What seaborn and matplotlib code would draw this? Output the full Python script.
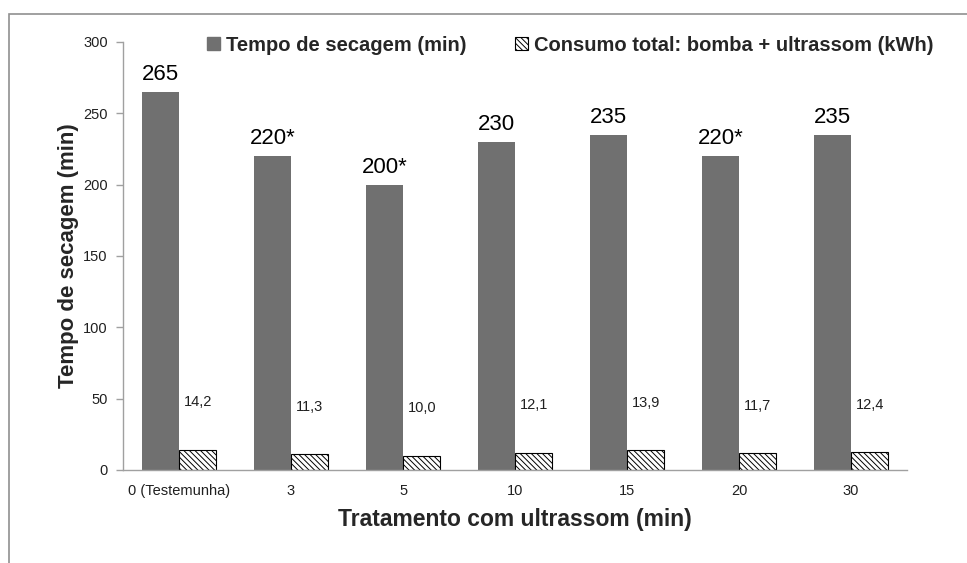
import matplotlib
matplotlib.use("Agg")
import matplotlib.pyplot as plt
from matplotlib.patches import Rectangle, Patch
import pandas as pd
import seaborn as sns

# Dados do gráfico
tratamentos = ["0 (Testemunha)", "3", "5", "10", "15", "20", "30"]
tempo_secagem = [265, 220, 200, 230, 235, 220, 235]
signif = ["", "*", "*", "", "", "*", ""]
consumo_kwh = [14.2, 11.3, 10.0, 12.1, 13.9, 11.7, 12.4]
series = ["Tempo de secagem (min)", "Consumo total: bomba + ultrassom (kWh)"]

df = pd.DataFrame({
    "trat": tratamentos * 2,
    "valor": tempo_secagem + consumo_kwh,
    "serie": [series[0]] * len(tratamentos) + [series[1]] * len(tratamentos),
})

sns.set_style("white")
plt.rcParams["font.family"] = ["Liberation Sans", "DejaVu Sans"]
plt.rcParams["hatch.linewidth"] = 0.7

cinza = "#707070"
hachura = "\\" * 6
fig = plt.figure(figsize=(9.67, 5.63), dpi=100)
ax = fig.add_axes([0.1272, 0.1652, 0.8108, 0.7602])

sns.barplot(data=df, x="trat", y="valor", hue="serie", order=tratamentos,
            hue_order=series, palette=[cinza, "white"], width=0.667,
            saturation=1, legend=False, ax=ax, err_kws={"linewidth": 0})

gray_bars, hatch_bars = ax.containers[0], ax.containers[1]
for p in gray_bars:
    p.set_edgecolor(cinza)
    p.set_linewidth(0)
for p in hatch_bars:
    p.set_facecolor("white")
    p.set_edgecolor("black")
    p.set_hatch(hachura)
    p.set_linewidth(0.8)

ax.bar_label(gray_bars, labels=[f"{v}{s}" for v, s in zip(tempo_secagem, signif)],
             padding=5, fontsize=16, color="black")
ax.bar_label(hatch_bars, labels=[f"{v:.1f}".replace(".", ",") for v in consumo_kwh],
             padding=29, fontsize=10.5, color="#202020")

ax.set_ylim(0, 300)
ax.set_xlim(-0.5, len(tratamentos) - 0.5)
ax.set_yticks(range(0, 301, 50))

# ticks do eixo x nas divisões entre grupos
ax.set_xticks([i - 0.5 for i in range(len(tratamentos) + 1)], minor=True)
ax.tick_params(axis="x", which="major", length=0, pad=10, labelsize=10.5, labelcolor="#202020")
ax.tick_params(axis="x", which="minor", length=5, width=1, color="#a0a0a0", direction="out")
ax.tick_params(axis="y", length=5, width=1, color="#a0a0a0", direction="out", pad=6,
               labelsize=10.5, labelcolor="#202020", left=True)

for s in ["top", "right"]:
    ax.spines[s].set_visible(False)
for s in ["left", "bottom"]:
    ax.spines[s].set_color("#a0a0a0")
    ax.spines[s].set_linewidth(1)

ax.set_xlabel("Tratamento com ultrassom (min)", fontsize=16.5, fontweight="bold", labelpad=7)
ax.set_ylabel("Tempo de secagem (min)", fontsize=16, fontweight="bold", labelpad=3)

handles = [Patch(facecolor=cinza, edgecolor=cinza),
           Patch(facecolor="white", edgecolor="black", hatch=hachura, linewidth=0.8)]
fig.legend(handles, series, loc="center", bbox_to_anchor=(0.59, 0.92), ncol=2,
           frameon=False, handlelength=0.65, handleheight=0.65, handletextpad=0.3,
           columnspacing=2.4, prop={"size": 14.5, "weight": "bold"})

# moldura da área do gráfico
fig.patches.append(Rectangle((9 / 967, -0.05), 1.0, 1.05 - 14 / 563, transform=fig.transFigure,
                             fill=False, edgecolor="#909090", linewidth=1.2))

fig.savefig("out.png", dpi=100)
